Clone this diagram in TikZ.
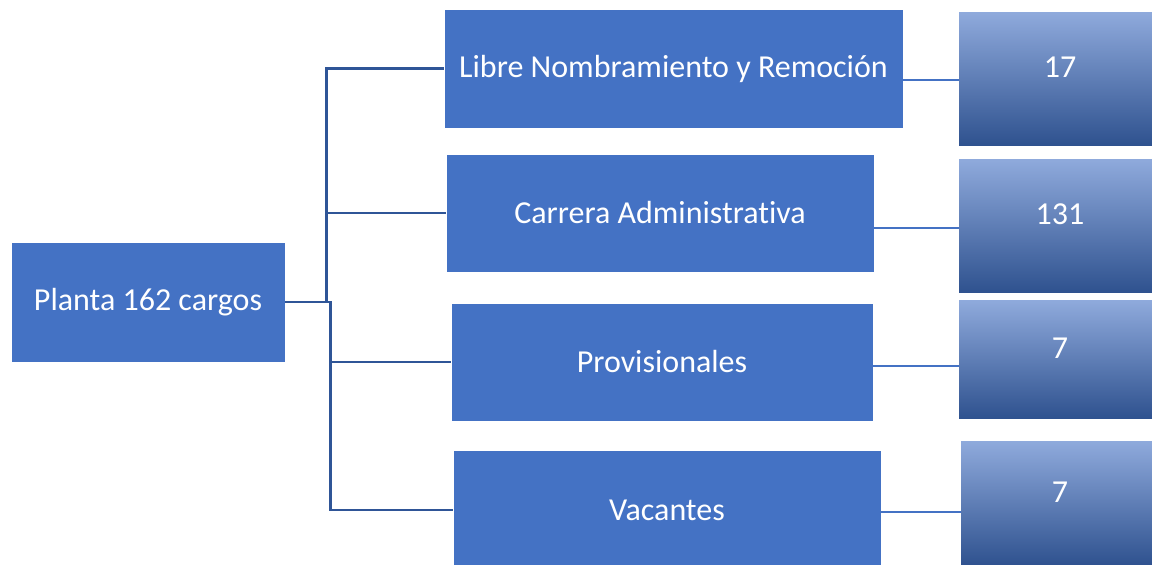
\documentclass[tikz,border=0pt]{standalone}
\usepackage{fontspec}
\setmainfont{Carlito}[Ligatures=NoCommon]
\definecolor{boxblue}{HTML}{4472C4}
\definecolor{lineblue}{HTML}{2F5597}
\definecolor{toplight}{HTML}{8FAADC}
\definecolor{bottomdark}{HTML}{2F528F}
\begin{document}
\begin{tikzpicture}[
  x=1pt, y=-1pt,
  every node/.style = {shape=rectangle, inner sep=0pt, align=center,
    text=white, font=\fontsize{32}{38}\selectfont},
  plainbox/.style = {fill=boxblue, draw=white, line width=0.6pt},
  countbox/.style = {top color=toplight, middle color=boxblue,
    bottom color=bottomdark, text depth=22pt},
  tree/.style = {draw=lineblue, line width=2.6pt},
  link/.style = {draw=boxblue, line width=1.3pt}
  ]
    \clip (0,0) rectangle (1152,565);
    \fill[white] (0,0) rectangle (1152,565);
    % left root
    \node[plainbox, minimum width=274pt, minimum height=120pt] (planta) at (148,302) {Planta 162 cargos};
    % middle boxes
    \node[plainbox, minimum width=459pt, minimum height=119pt] (libre) at (673.5,68.5) {Libre Nombramiento y Remoción};
    \node[plainbox, minimum width=428pt, minimum height=118pt] (carrera) at (660,213) {Carrera Administrativa};
    \node[plainbox, minimum width=422pt, minimum height=118pt] (provis) at (662,362) {Provisionales};
    \node[plainbox, minimum width=428pt, minimum height=120pt] (vacantes) at (667,510) {Vacantes};
    % right counts
    \node[countbox, minimum width=202pt, minimum height=133pt] (nlibre) at (1060,78.5) {17};
    \node[countbox, minimum width=202pt, minimum height=133pt] (ncarrera) at (1060,225.5) {131};
    \node[countbox, minimum width=202pt, minimum height=118pt] (nprovis) at (1060,359) {7};
    \node[countbox, minimum width=198pt, minimum height=124pt] (nvacantes) at (1060,503) {7};
    % tree
    \draw[tree] (planta.east) -- ++(41,0) |- (libre.west);
    \draw[tree] (planta.east) -- ++(41,0) |- (carrera.west);
    \draw[tree] (planta.east) -- ++(45,0) |- (provis.west);
    \draw[tree] (planta.east) -- ++(45,0) |- (vacantes.west);
    % links to counts
    \draw[link] ([yshift=-11.5pt]libre.east) -- ([yshift=-11.5pt]libre.east -| nlibre.west);
    \draw[link] ([yshift=-15pt]carrera.east) -- ([yshift=-15pt]carrera.east -| ncarrera.west);
    \draw[link] ([yshift=-4pt]provis.east) -- ([yshift=-4pt]provis.east -| nprovis.west);
    \draw[link] ([yshift=-2pt]vacantes.east) -- ([yshift=-2pt]vacantes.east -| nvacantes.west);
\end{tikzpicture}
\end{document}
